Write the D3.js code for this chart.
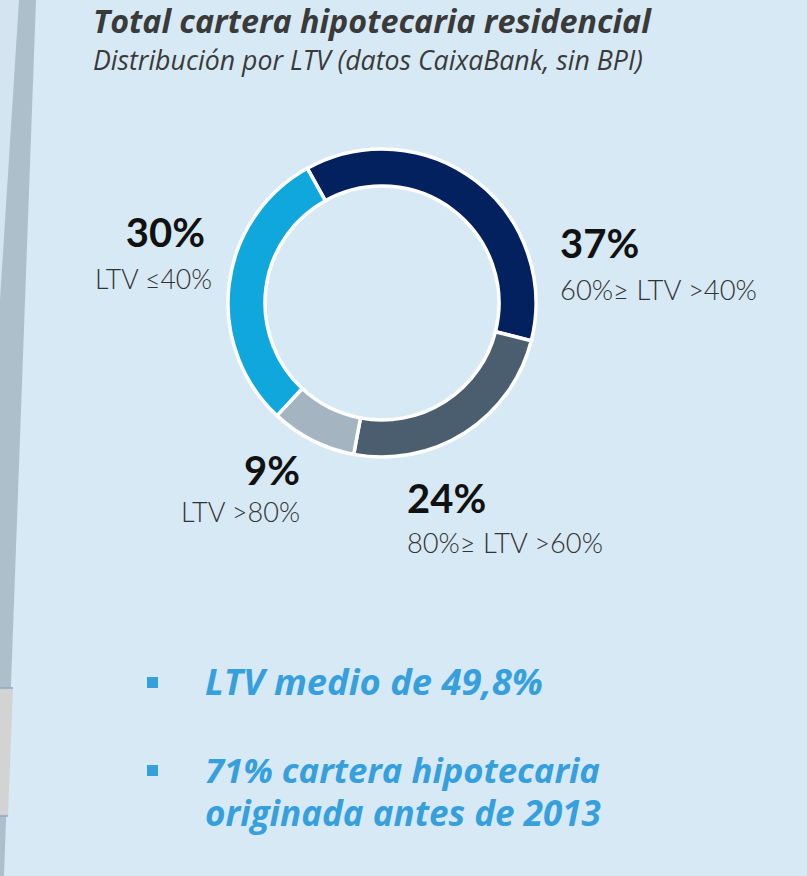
<!DOCTYPE html>
<html>
<head>
<meta charset="utf-8">
<script src="https://cdn.jsdelivr.net/npm/d3@7"></script>
<style>
  body { margin: 0; background: #d7e9f5; }
  svg { display: block; font-family: "Open Sans", Lato, sans-serif; }
</style>
</head>
<body>
<div id="chart"></div>
<script>
// data
var categories = ['60%≥ LTV >40%', '80%≥ LTV >60%', 'LTV >80%', 'LTV ≤40%'];
var values = [37, 24, 9, 30];
var colors = ['#03205f', '#4a5e70', '#a4b4c1', '#10a8dc'];
var bullets = [['LTV medio de 49,8%'], ['71% cartera hipotecaria', 'originada antes de 2013']];

// label layout (positions of the text blocks round the ring)
var labelPos = [
  { x: 560, y: 258, dy: 42, w: 197 },
  { x: 407, y: 513, dy: 40, w: 196 },
  { x: 300, y: 485, dy: 37, anchor: 'end', w: 119 },
  { x: 212, y: 247, dy: 42, anchor: 'end', px: 205, w: 117 }
];

var width = 807, height = 876;

var svg = d3.select('#chart').append('svg')
  .attr('width', width)
  .attr('height', height);

// shrink / grow font size so a text spans a given width
function fit(sel, w) {
  var fs = parseFloat(sel.style('font-size'));
  var len = sel.node().getComputedTextLength();
  sel.style('font-size', (fs * w / len).toFixed(2) + 'px');
}

// left page edge decoration
var edge = svg.append('g');
edge.append('polygon')
  .attr('points', '0,0 36,0 4,876 0,876')
  .attr('fill', '#aebfcc');
edge.append('polygon')
  .attr('points', '0,0 19,0 0,300')
  .attr('fill', '#d4e5f1');
edge.append('polygon')
  .attr('points', '0,688 13,688 8,816 0,816')
  .attr('fill', '#d3d3d3');
edge.append('line').attr('x1', 0).attr('x2', 13).attr('y1', 688).attr('y2', 688)
  .attr('stroke', '#8fa9c4').attr('stroke-width', 1.5);
edge.append('line').attr('x1', 0).attr('x2', 8).attr('y1', 816).attr('y2', 816)
  .attr('stroke', '#8fa9c4').attr('stroke-width', 1.5);

// title
svg.append('text')
  .attr('x', 93).attr('y', 33)
  .attr('fill', '#3a3a3a')
  .style('font-size', '28px').style('font-weight', 700).style('font-style', 'italic')
  .text('Total cartera hipotecaria residencial')
  .call(fit, 558);
svg.append('text')
  .attr('x', 93).attr('y', 70)
  .attr('fill', '#3a3a3a')
  .style('font-size', '20px').style('font-style', 'italic')
  .text('Distribución por LTV (datos CaixaBank, sin BPI)')
  .call(fit, 550);

// donut
var cx = 382, cy = 303;
var pie = d3.pie().sort(null)
  .startAngle(-29 * Math.PI / 180)
  .endAngle(331 * Math.PI / 180);
var arc = d3.arc().innerRadius(117).outerRadius(154);

var g = svg.append('g').attr('transform', 'translate(' + cx + ',' + cy + ')');
g.selectAll('path')
  .data(pie(values))
  .enter()
  .append('path')
  .attr('d', arc)
  .attr('fill', function (d, i) { return colors[i]; })
  .attr('stroke', '#fff')
  .attr('stroke-width', 3.5)
  .attr('stroke-linejoin', 'miter');

// labels
var lab = svg.selectAll('.lab')
  .data(values)
  .enter()
  .append('g')
  .attr('class', 'lab');

lab.append('text')
  .attr('x', function (d, i) { return labelPos[i].px || labelPos[i].x; })
  .attr('y', function (d, i) { return labelPos[i].y; })
  .attr('text-anchor', function (d, i) { return labelPos[i].anchor || 'start'; })
  .attr('fill', '#111')
  .style('font-family', 'Lato, sans-serif')
  .style('font-size', '40px').style('font-weight', 700)
  .text(function (d) { return d + '%'; });

lab.append('text')
  .attr('x', function (d, i) { return labelPos[i].x; })
  .attr('y', function (d, i) { return labelPos[i].y + labelPos[i].dy; })
  .attr('text-anchor', function (d, i) { return labelPos[i].anchor || 'start'; })
  .attr('fill', '#333')
  .style('font-family', 'Lato, sans-serif')
  .style('font-size', '25px').style('font-weight', 300)
  .text(function (d, i) { return categories[i]; })
  .each(function (d, i) { fit(d3.select(this), labelPos[i].w); });

// bullets
var by = [695, 783];
var bw = [[338], [395, 396]];
bullets.forEach(function (lines, i) {
  svg.append('rect')
    .attr('x', 147).attr('y', by[i] - 18)
    .attr('width', 11).attr('height', 11)
    .attr('fill', '#36a0dc');
  lines.forEach(function (t, j) {
    svg.append('text')
      .attr('x', 205).attr('y', by[i] + j * 43)
      .attr('fill', '#36a0dc')
      .style('font-size', '32px').style('font-weight', 700).style('font-style', 'italic')
      .text(t)
      .call(fit, bw[i][j]);
  });
});
</script>
</body>
</html>
